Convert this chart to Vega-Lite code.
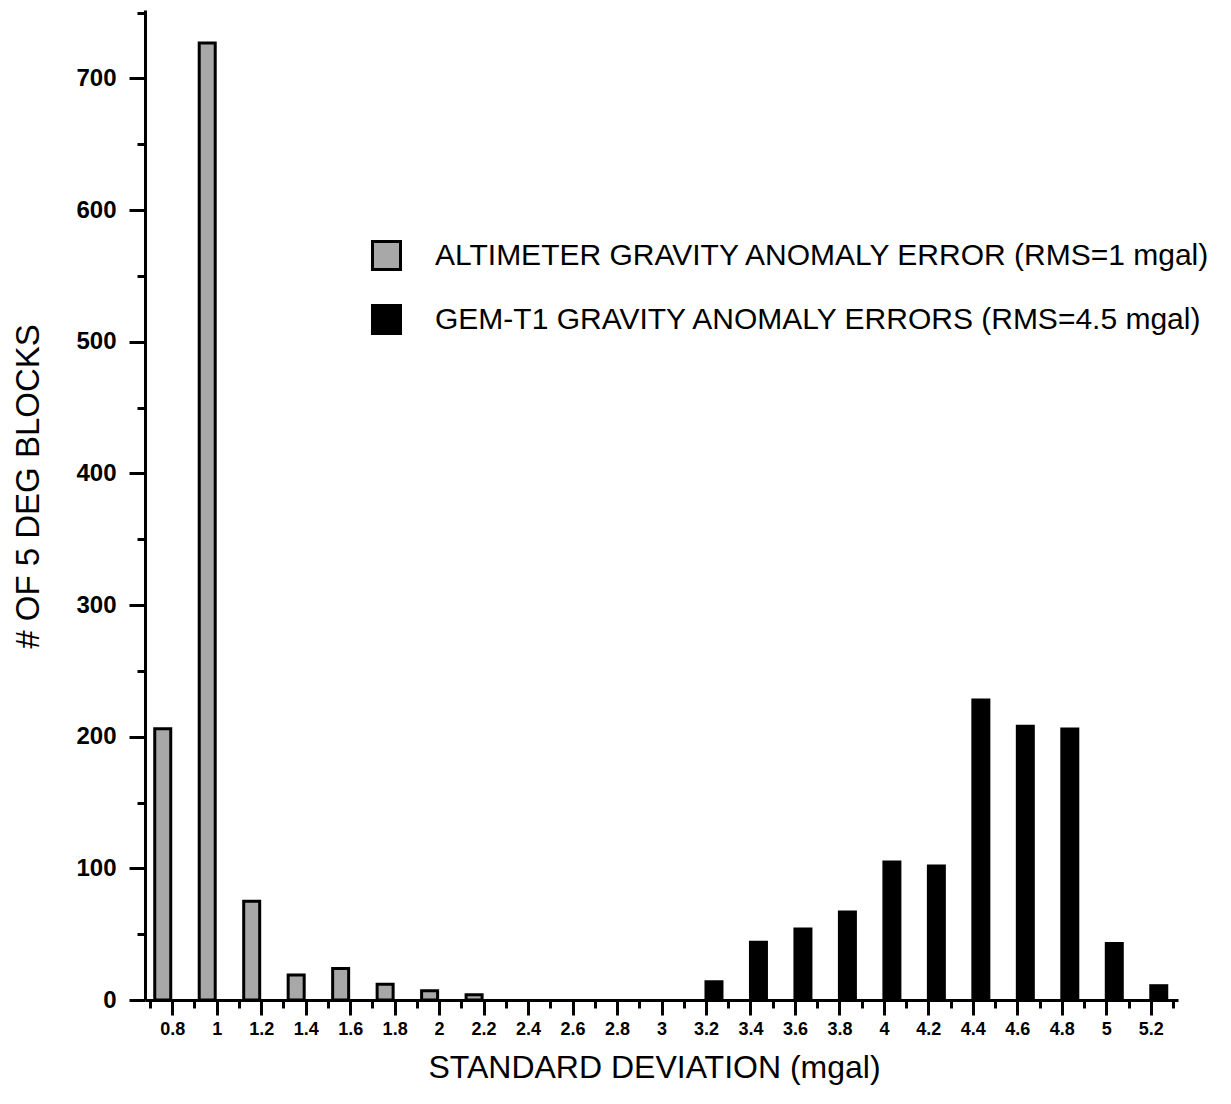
{
  "$schema": "https://vega.github.io/schema/vega-lite/v6.json",
  "autosize": {"type": "none"},
  "padding": {"left": 145, "top": 10, "right": 53, "bottom": 104},
  "width": 1033,
  "height": 990,
  "background": "white",
  "config": {
    "view": {"stroke": null},
    "font": "Liberation Sans",
    "axis": {
      "domainColor": "black",
      "domainWidth": 3,
      "tickColor": "black",
      "tickWidth": 3,
      "grid": false,
      "labelColor": "black",
      "titleColor": "black",
      "labelFont": "Liberation Sans",
      "titleFont": "Liberation Sans",
      "titleFontWeight": "normal"
    }
  },
  "data": {
    "values": [
      {"sd": 0.8, "series": "ALTIMETER GRAVITY ANOMALY ERROR  (RMS=1 mgal)", "count": 206},
      {"sd": 1.0, "series": "ALTIMETER GRAVITY ANOMALY ERROR  (RMS=1 mgal)", "count": 727},
      {"sd": 1.2, "series": "ALTIMETER GRAVITY ANOMALY ERROR  (RMS=1 mgal)", "count": 75},
      {"sd": 1.4, "series": "ALTIMETER GRAVITY ANOMALY ERROR  (RMS=1 mgal)", "count": 19},
      {"sd": 1.6, "series": "ALTIMETER GRAVITY ANOMALY ERROR  (RMS=1 mgal)", "count": 24},
      {"sd": 1.8, "series": "ALTIMETER GRAVITY ANOMALY ERROR  (RMS=1 mgal)", "count": 12},
      {"sd": 2.0, "series": "ALTIMETER GRAVITY ANOMALY ERROR  (RMS=1 mgal)", "count": 7},
      {"sd": 2.2, "series": "ALTIMETER GRAVITY ANOMALY ERROR  (RMS=1 mgal)", "count": 4},
      {"sd": 3.2, "series": "GEM-T1 GRAVITY ANOMALY ERRORS  (RMS=4.5 mgal)", "count": 15},
      {"sd": 3.4, "series": "GEM-T1 GRAVITY ANOMALY ERRORS  (RMS=4.5 mgal)", "count": 45},
      {"sd": 3.6, "series": "GEM-T1 GRAVITY ANOMALY ERRORS  (RMS=4.5 mgal)", "count": 55},
      {"sd": 3.8, "series": "GEM-T1 GRAVITY ANOMALY ERRORS  (RMS=4.5 mgal)", "count": 68},
      {"sd": 4.0, "series": "GEM-T1 GRAVITY ANOMALY ERRORS  (RMS=4.5 mgal)", "count": 106},
      {"sd": 4.2, "series": "GEM-T1 GRAVITY ANOMALY ERRORS  (RMS=4.5 mgal)", "count": 103},
      {"sd": 4.4, "series": "GEM-T1 GRAVITY ANOMALY ERRORS  (RMS=4.5 mgal)", "count": 229},
      {"sd": 4.6, "series": "GEM-T1 GRAVITY ANOMALY ERRORS  (RMS=4.5 mgal)", "count": 209},
      {"sd": 4.8, "series": "GEM-T1 GRAVITY ANOMALY ERRORS  (RMS=4.5 mgal)", "count": 207},
      {"sd": 5.0, "series": "GEM-T1 GRAVITY ANOMALY ERRORS  (RMS=4.5 mgal)", "count": 44},
      {"sd": 5.2, "series": "GEM-T1 GRAVITY ANOMALY ERRORS  (RMS=4.5 mgal)", "count": 12}
    ]
  },
  "encoding": {
    "x": {
      "field": "sd",
      "type": "quantitative",
      "scale": {"domain": [0.7, 5.3], "nice": false, "zero": false},
      "axis": {
        "title": "STANDARD DEVIATION (mgal)",
        "titleFontSize": 32,
        "titleBaseline": "alphabetic",
        "titleX": 509,
        "titleY": 77,
        "values": [0.7, 0.8, 0.9, 1.0, 1.1, 1.2, 1.3, 1.4, 1.5, 1.6, 1.7, 1.8, 1.9, 2.0, 2.1, 2.2, 2.3, 2.4, 2.5, 2.6, 2.7, 2.8, 2.9, 3.0, 3.1, 3.2, 3.3, 3.4, 3.5, 3.6, 3.7, 3.8, 3.9, 4.0, 4.1, 4.2, 4.3, 4.4, 4.5, 4.6, 4.7, 4.8, 4.9, 5.0, 5.1, 5.2, 5.3],
        "labelExpr": "round(datum.value*10)%2==0 ? format(datum.value,'~g') : ''",
        "labelFontSize": 18,
        "labelFontWeight": "bold",
        "labelPadding": 5,
        "labelOverlap": false,
        "labelFlush": false,
        "tickSize": {"condition": {"test": "round(datum.value*10)%2==0", "value": 15}, "value": 8}
      }
    },
    "y": {
      "field": "count",
      "type": "quantitative",
      "scale": {"domain": [0, 752], "nice": false},
      "axis": {
        "title": "# OF 5 DEG BLOCKS",
        "titleFontSize": 33,
        "titleBaseline": "alphabetic",
        "titleX": -107,
        "titleY": 476,
        "titleAngle": 270,
        "titleAlign": "center",
        "values": [0, 50, 100, 150, 200, 250, 300, 350, 400, 450, 500, 550, 600, 650, 700, 750],
        "labelExpr": "datum.value%100==0 ? datum.label : ''",
        "labelFontSize": 24,
        "labelFontWeight": "bold",
        "labelPadding": 13,
        "labelOverlap": false,
        "labelFlush": false,
        "tickSize": {"condition": {"test": "datum.value%100==0", "value": 16}, "value": 8}
      }
    },
    "y2": {"datum": 0},
    "color": {
      "field": "series",
      "type": "nominal",
      "scale": {
        "domain": ["ALTIMETER GRAVITY ANOMALY ERROR  (RMS=1 mgal)", "GEM-T1 GRAVITY ANOMALY ERRORS  (RMS=4.5 mgal)"],
        "range": ["#a8a8a8", "#000000"]
      },
      "legend": {
        "title": null,
        "orient": "none",
        "legendX": 226,
        "legendY": 230,
        "padding": 0,
        "symbolType": "square",
        "symbolSize": 784,
        "symbolStrokeColor": "black",
        "symbolStrokeWidth": 3,
        "symbolOpacity": 1,
        "symbolFillOpacity": 1,
        "labelFontSize": 30,
        "labelFont": "Liberation Sans",
        "labelColor": "black",
        "labelLimit": 0,
        "labelOffset": 33,
        "rowPadding": 23
      }
    }
  },
  "layer": [
    {
      "transform": [{"filter": "datum.series == 'ALTIMETER GRAVITY ANOMALY ERROR  (RMS=1 mgal)'"}],
      "mark": {"type": "bar", "width": 16, "xOffset": -9.5, "stroke": "black", "strokeWidth": 3, "opacity": 1}
    },
    {
      "transform": [{"filter": "datum.series == 'GEM-T1 GRAVITY ANOMALY ERRORS  (RMS=4.5 mgal)'"}],
      "mark": {"type": "bar", "width": 19, "xOffset": 8, "stroke": null, "opacity": 1}
    }
  ]
}
